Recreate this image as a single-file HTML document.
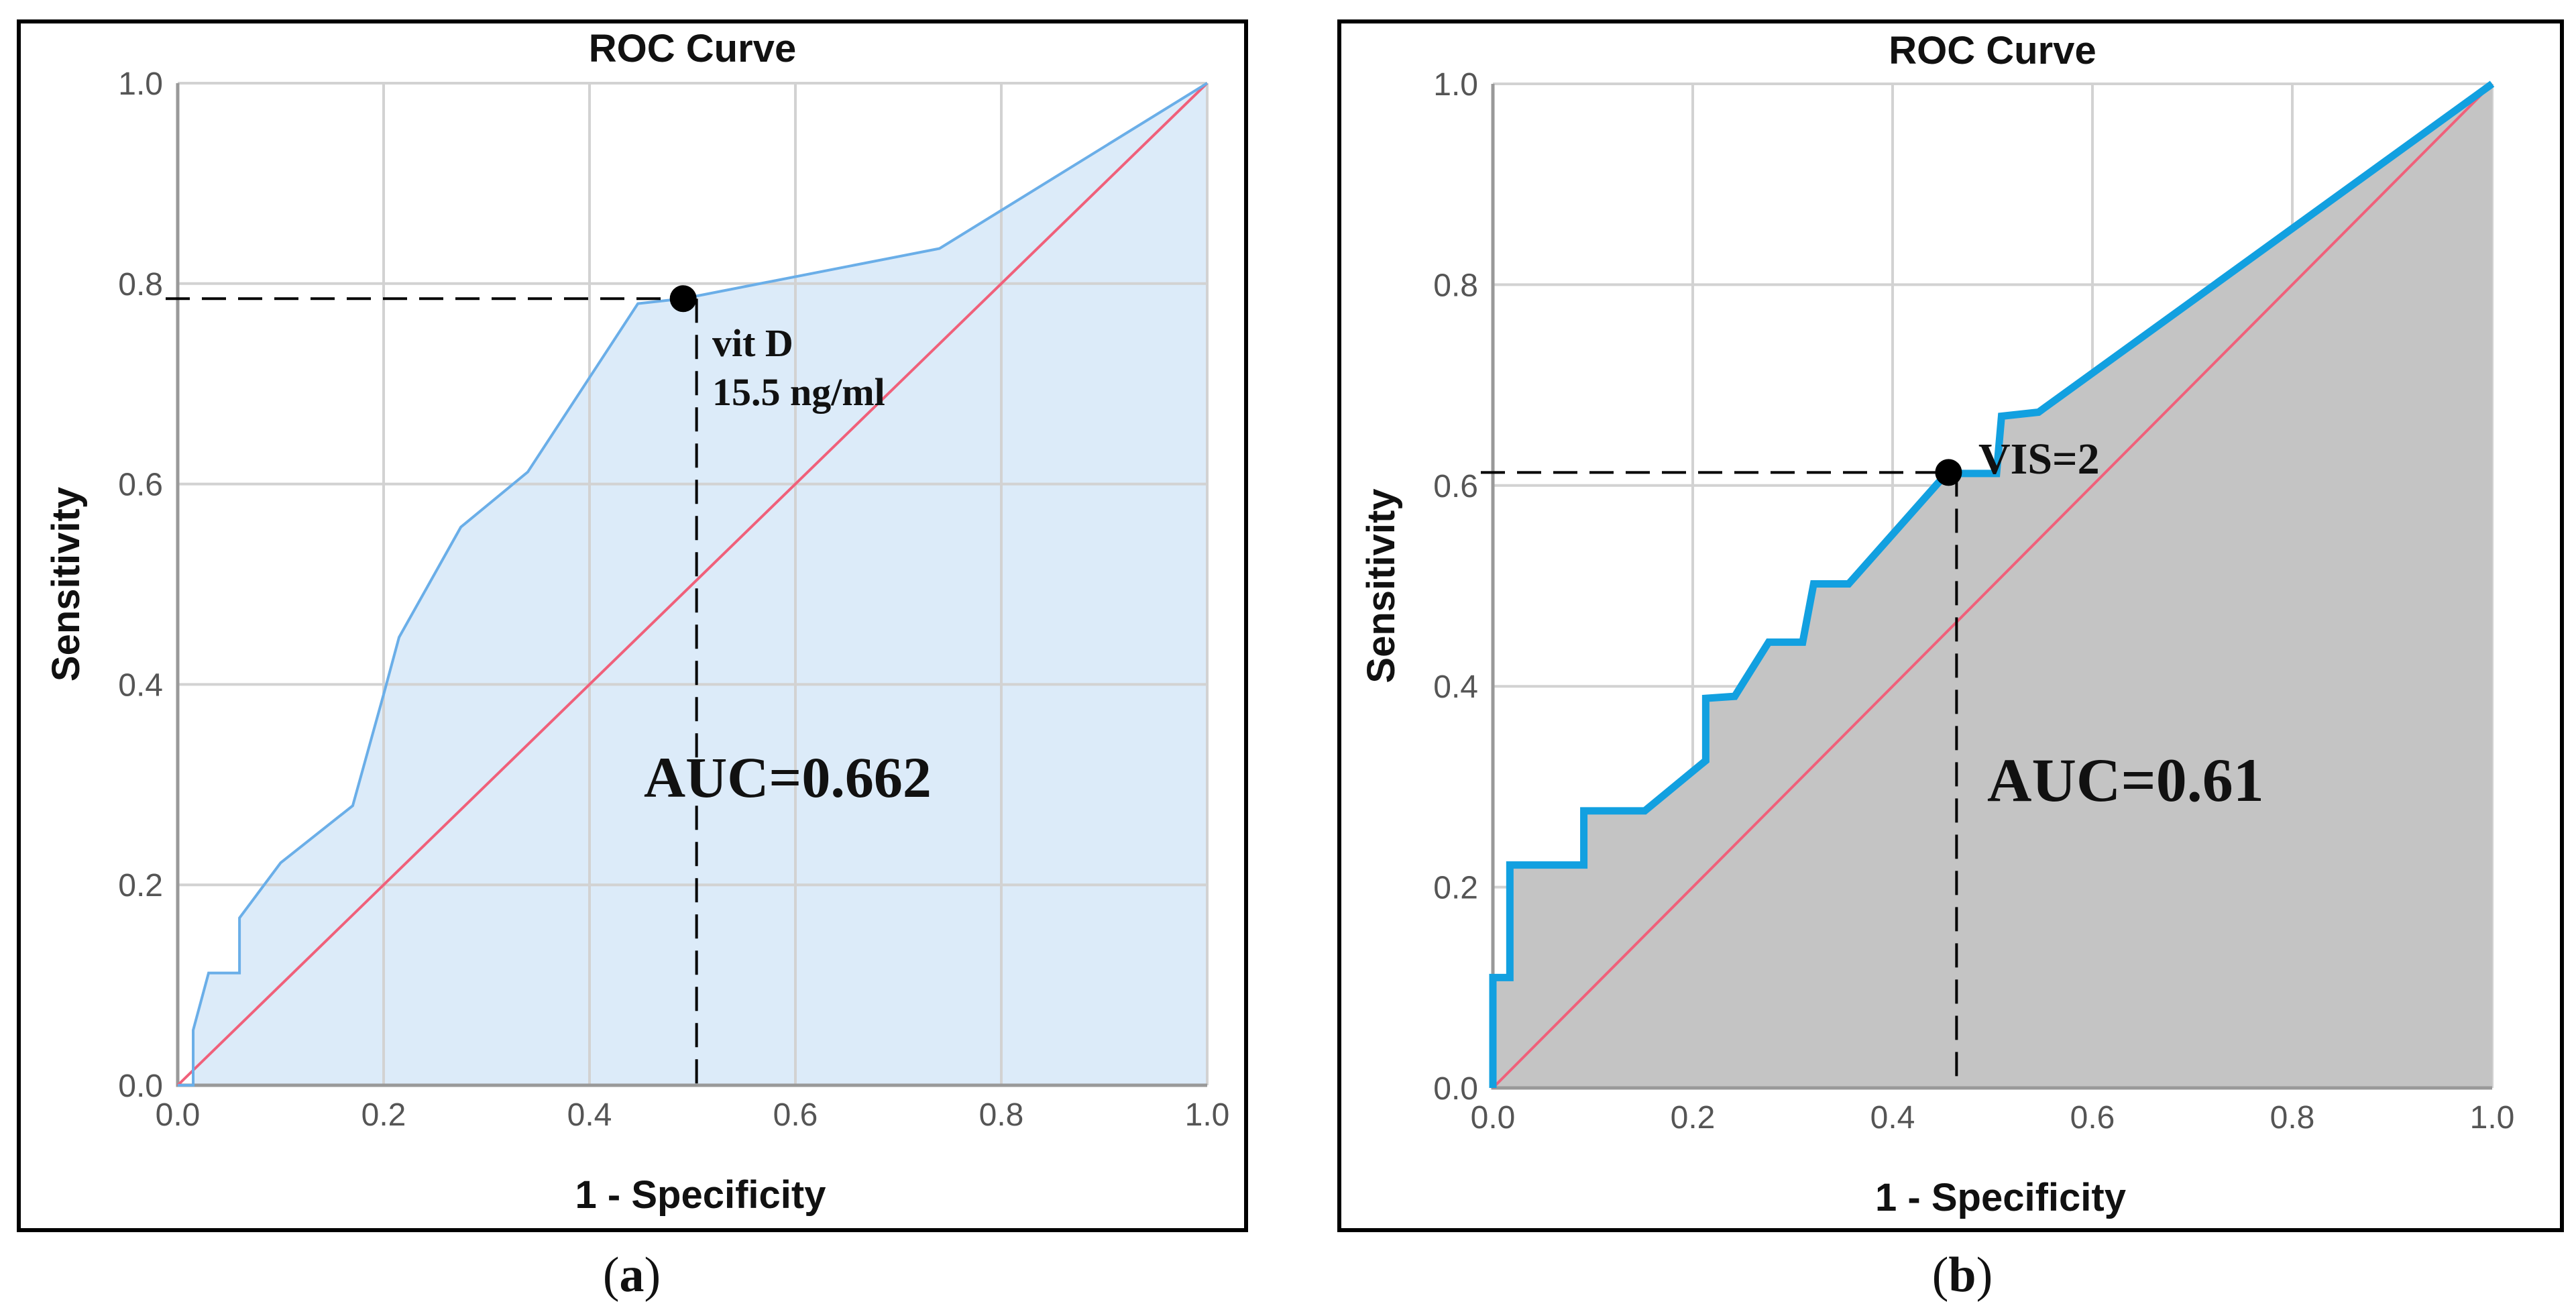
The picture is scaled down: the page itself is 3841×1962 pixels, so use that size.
<!DOCTYPE html>
<html><head><meta charset="utf-8">
<style>
html,body{margin:0;padding:0;background:#fff;}
svg{display:block;}
.tk{font-family:"Liberation Sans",sans-serif;font-size:48px;fill:#555;}
.ttl{font-family:"Liberation Sans",sans-serif;font-size:58px;font-weight:bold;fill:#111;}
.ser{font-family:"Liberation Serif",serif;font-weight:bold;fill:#111;}
</style></head>
<body>
<svg id="chart" width="3841" height="1962" viewBox="0 0 3841 1962" xmlns="http://www.w3.org/2000/svg">
<rect x="28" y="32" width="1830" height="1802" fill="#fff" stroke="#000" stroke-width="6"/>
<rect x="1997" y="32" width="1823" height="1802" fill="#fff" stroke="#000" stroke-width="6"/>
<g id="pa"></g>
<g id="pb"></g>
</svg>
<script>
const ticks = [0, 0.2, 0.4, 0.6, 0.8, 1.0];
const tickLabels = ["0.0", "0.2", "0.4", "0.6", "0.8", "1.0"];
const rocAx = [0, 0.015, 0.015, 0.03, 0.06, 0.06, 0.10, 0.17, 0.20, 0.215, 0.275, 0.34, 0.447, 0.491, 0.74, 1.0];
const rocAy = [0, 0, 0.055, 0.112, 0.112, 0.167, 0.222, 0.279, 0.39, 0.447, 0.557, 0.612, 0.78, 0.785, 0.835, 1.0];
const rocBx = [0, 0, 0.017, 0.017, 0.091, 0.091, 0.152, 0.213, 0.213, 0.242, 0.276, 0.31, 0.321, 0.356, 0.446, 0.456, 0.504, 0.509, 0.546, 1.0];
const rocBy = [0, 0.11, 0.11, 0.222, 0.222, 0.276, 0.276, 0.326, 0.388, 0.39, 0.444, 0.444, 0.502, 0.502, 0.603, 0.612, 0.612, 0.669, 0.673, 1.0];
const cutA = [0.491, 0.785];
const cutB = [0.456, 0.613];
const NS = "http://www.w3.org/2000/svg";
function mk(parent, tag, attrs, text) {
  const e = document.createElementNS(NS, tag);
  for (const k in attrs) e.setAttribute(k, attrs[k]);
  if (text !== undefined) e.textContent = text;
  parent.appendChild(e);
  return e;
}
function panel(g, cfg) {
  const X = v => cfg.x0 + v * (cfg.x1 - cfg.x0);
  const Y = v => cfg.y0 - v * (cfg.y0 - cfg.y1);
  let t = mk(g, "text", {x: (cfg.x0 + cfg.x1) / 2, y: cfg.titleY, "text-anchor": "middle", class: "ttl"}, "ROC Curve");
  
  
  let pts = cfg.xs.map((v, i) => X(v) + "," + Y(cfg.ys[i])).join(" ");
  const drawArea = () => {
    let area = mk(g, "polygon", {points: X(0) + "," + Y(0) + " " + pts + " " + X(1) + "," + Y(0), fill: cfg.fill});
    
    
  };
  if (!cfg.fillOver) drawArea();
  ticks.forEach((v, i) => {
    if (v > 0) {
      let gl = mk(g, "line", {x1: X(v), x2: X(v), y1: Y(0), y2: Y(1), stroke: "#d2d2d2", "stroke-width": 4});
      
      
      let gh = mk(g, "line", {x1: X(0), x2: X(1), y1: Y(v), y2: Y(v), stroke: "#d2d2d2", "stroke-width": 4});
      
      
    }
    let xl = mk(g, "text", {x: X(v), y: Y(0) + 60, "text-anchor": "middle", class: "tk"}, tickLabels[i]);
    
    
    let yl = mk(g, "text", {x: X(0) - 22, y: Y(v) + 17, "text-anchor": "end", class: "tk"}, tickLabels[i]);
    
    
  });
  if (cfg.fillOver) drawArea();
  let ax = mk(g, "polyline", {points: X(0) + "," + Y(1) + " " + X(0) + "," + Y(0) + " " + X(1) + "," + Y(0), fill: "none", stroke: "#999", "stroke-width": 5});
  
  
  let d = mk(g, "line", {x1: X(0), y1: Y(0), x2: X(1), y2: Y(1), stroke: "#f0607a", "stroke-width": 4});
  
  
  let c = mk(g, "polyline", {points: pts, fill: "none", stroke: cfg.stroke, "stroke-width": cfg.sw, "stroke-linejoin": "miter"});
  
  
  let dh = mk(g, "line", {x1: X(0) - 18, x2: X(cfg.cut[0]), y1: Y(cfg.cut[1]), y2: Y(cfg.cut[1]), stroke: "#000", "stroke-width": 4, "stroke-dasharray": "36,18"});
  
  
  let dv = mk(g, "line", {x1: X(cfg.vx), x2: X(cfg.vx), y1: Y(cfg.cut[1]), y2: Y(0), stroke: "#000", "stroke-width": 4, "stroke-dasharray": "36,18"});
  
  
  let dot = mk(g, "circle", {cx: X(cfg.cut[0]), cy: Y(cfg.cut[1]), r: 20, fill: "#000"});
  
  
  let xt = mk(g, "text", {x: (cfg.x0 + cfg.x1) / 2 + 12, y: cfg.y0 + 183, "text-anchor": "middle", class: "ttl", "font-size": "62"}, "1 - Specificity");
  
  
  let yt = mk(g, "text", {x: 0, y: 0, "text-anchor": "middle", class: "ttl", "font-size": "62", transform: "translate(" + cfg.ylx + "," + (cfg.y0 + cfg.y1) / 2 + ") rotate(-90)"}, "Sensitivity");
  
  
  let cap = mk(g, "text", {x: cfg.capX, y: 1925, "text-anchor": "middle", class: "ser", "font-weight": "normal", "font-size": "74"}, "");
  
  
  mk(cap, "tspan", {"font-weight": "normal"}, "(");
  mk(cap, "tspan", {"font-weight": "bold"}, cfg.cap);
  mk(cap, "tspan", {"font-weight": "normal"}, ")");
  return {X, Y};
}
const A = panel(document.getElementById("pa"), {x0: 265, x1: 1800, y0: 1618, y1: 124, titleY: 92, xs: rocAx, ys: rocAy, fill: "#dcebf9", stroke: "#6aaee8", sw: 4, cut: cutA, vx: 0.504, ylx: 118, capX: 942, cap: "a", fillOver: false});
const B = panel(document.getElementById("pb"), {x0: 2226, x1: 3716, y0: 1622, y1: 125, titleY: 95, xs: rocBx, ys: rocBy, fill: "#c4c4c4", stroke: "#12a0e0", sw: 11, cut: cutB, vx: 0.464, ylx: 2079, capX: 2926, cap: "b", fillOver: true});
const ga = document.getElementById("pa"), gb = document.getElementById("pb");
let t1 = mk(ga, "text", {x: 1062, y: 531, class: "ser", "font-size": "58"}, "vit D");


let t2 = mk(ga, "text", {x: 1062, y: 604, class: "ser", "font-size": "58"}, "15.5 ng/ml");


let t3 = mk(ga, "text", {x: 960, y: 1188, class: "ser", "font-size": "86"}, "AUC=0.662");


let t4 = mk(gb, "text", {x: 2950, y: 706, class: "ser", "font-size": "66"}, "VIS=2");


let t5 = mk(gb, "text", {x: 2963, y: 1194, class: "ser", "font-size": "92"}, "AUC=0.61");


</script>
</body></html>
